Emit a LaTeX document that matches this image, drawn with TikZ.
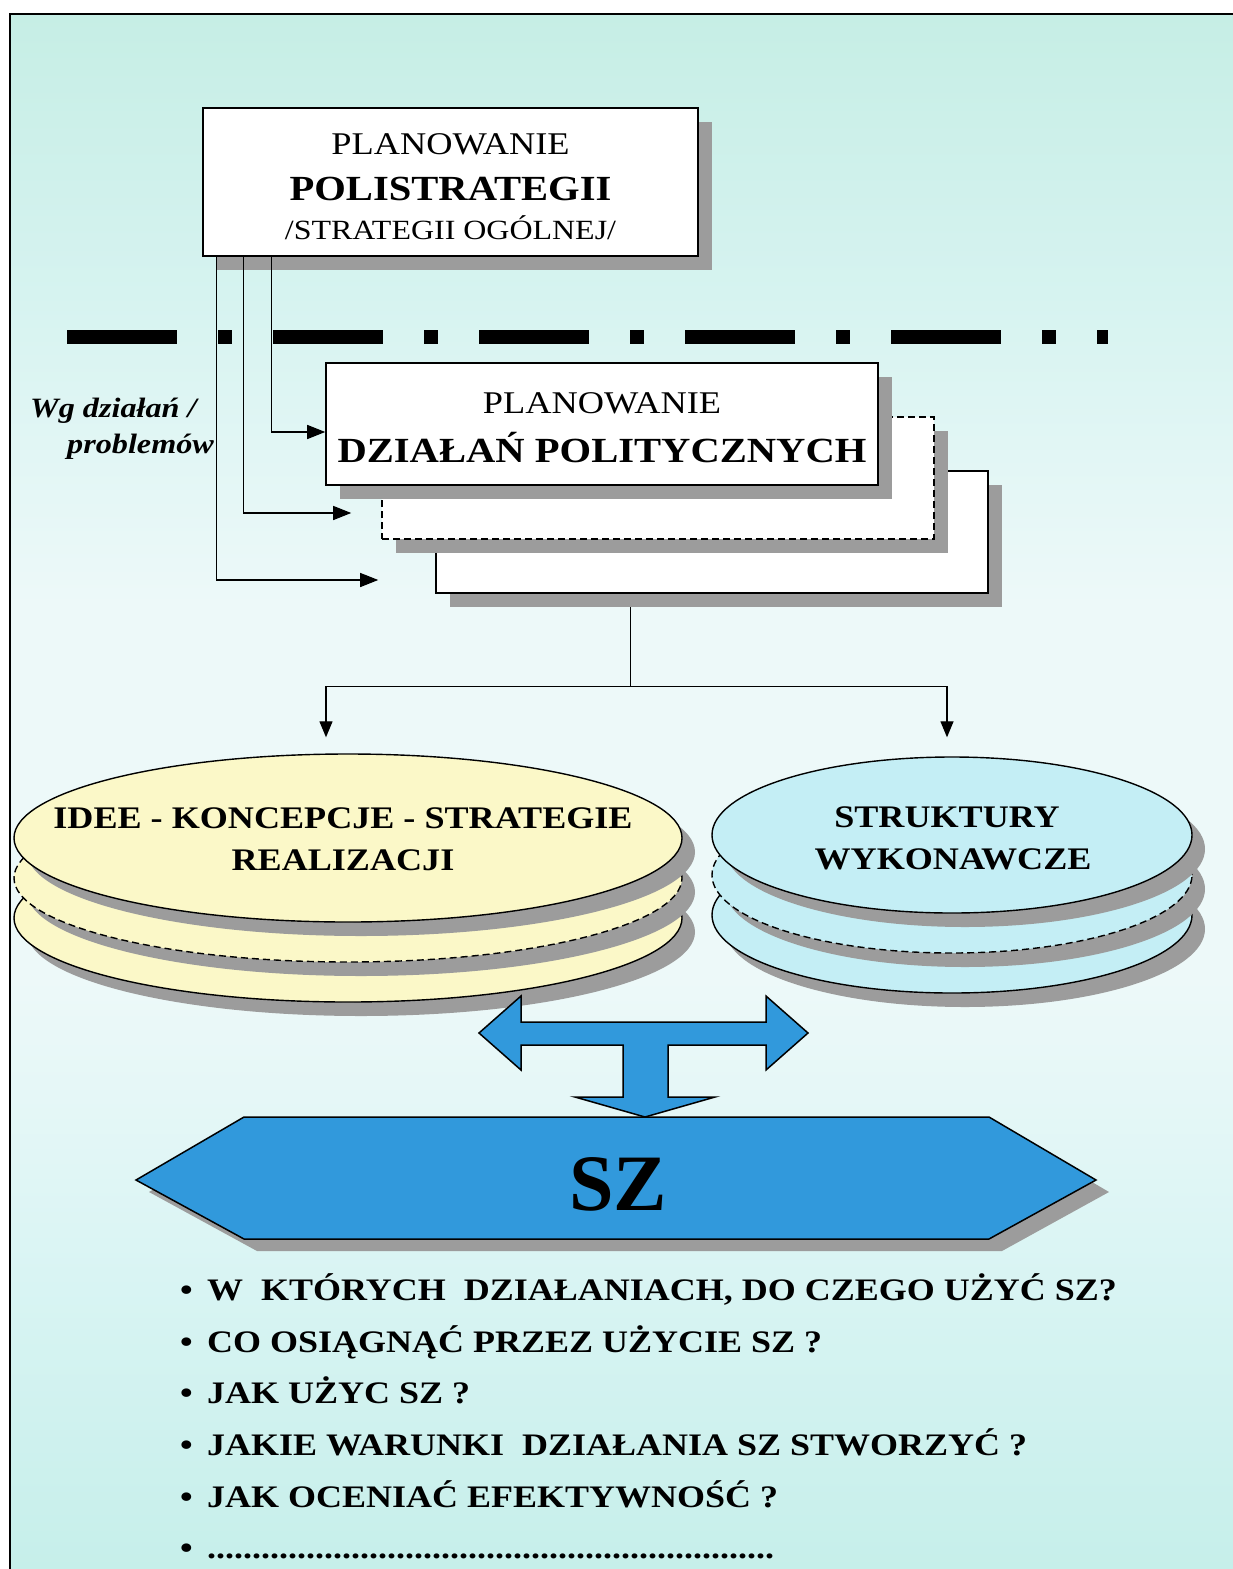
\documentclass[tikz,border=0pt]{standalone}
\usepackage{fontspec}
\setmainfont{Liberation Serif}[FakeStretch=1.15]
\newfontfamily\plainserif{Liberation Serif}
\usetikzlibrary{arrows.meta,shapes.geometric,shadows,calc}

\definecolor{bgT}{HTML}{C6EEE5}
\definecolor{bgT2}{HTML}{D6F3F0}
\definecolor{bgW}{HTML}{EDF9F9}
\definecolor{bgB2}{HTML}{D8F4F3}
\definecolor{bgB}{HTML}{C6EFEA}
\definecolor{shadowgray}{HTML}{9C9C9C}
\definecolor{ideayellow}{HTML}{FBF8C8}
\definecolor{structblue}{HTML}{C4EEF5}
\definecolor{szblue}{HTML}{3199DC}

\pgfdeclareverticalshading{paper}{100bp}{color(0bp)=(bgB); color(25bp)=(bgB); color(34bp)=(bgB2); color(44bp)=(bgW); color(56bp)=(bgW); color(66bp)=(bgT2); color(75bp)=(bgT); color(100bp)=(bgT)}

\pgfdeclarelayer{bg}
\pgfdeclarelayer{wires}
\pgfsetlayers{bg,wires,main}

\tikzset{
  boxshadow/.style={drop shadow={shadow xshift=14pt, shadow yshift=-14pt, fill=shadowgray, opacity=1}},
  planbox/.style={draw=black, line width=1.6pt, fill=white, minimum width=552pt, minimum height=122pt, inner sep=0pt, boxshadow},
  brokenline/.style={dash pattern=on 7pt off 4pt},
  disk/.style={ellipse, draw=black, line width=1.4pt, inner sep=0pt,
    drop shadow={shadow xshift=13pt, shadow yshift=-14pt, fill=shadowgray, opacity=1}},
  leftdisk/.style={disk, fill=ideayellow, minimum width=668pt, minimum height=168pt},
  rightdisk/.style={disk, fill=structblue, minimum width=480pt, minimum height=156pt},
  wire/.style={line width=1.3pt, draw=black},
  wirearrow/.style={-{Triangle[length=18pt,width=14pt]}},
  downarrow/.style={-{Triangle[length=16pt,width=13pt]}},
  txt/.style={inner sep=0pt, anchor=base},
  regtext/.style={txt, font=\fontsize{31.6}{36}\selectfont},
  boldtext/.style={txt, font=\fontsize{31.4}{36}\selectfont\bfseries},
  question/.style={inner sep=0pt, anchor=base west, font=\fontsize{31.3}{36}\selectfont\bfseries},
}

\begin{document}
\begin{tikzpicture}[x=1pt,y=-1pt]
\useasboundingbox (0,0) rectangle (1233,1569);

% paper and frame
\begin{pgfonlayer}{bg}
  \fill[white] (0,0) rectangle (1233,1569);
  \shade[shading=paper] (10,14) rectangle (1233,1569);
  \draw[line width=2pt] (10,1569) -- (10,14) -- (1233,14);
\end{pgfonlayer}

% general strategy box
\node[planbox, minimum width=495pt, minimum height=148pt] (topbox) at (450.5,182) {};
\node[regtext] (t1) at (450.5,154) {PLANOWANIE};
\node[txt, font=\fontsize{35.3}{40}\selectfont\bfseries] (t2) at (450.5,200) {POLISTRATEGII};
\node[txt, font=\fontsize{27.8}{32}\selectfont] (t3) at (450.5,239) {/STRATEGII OGÓLNEJ/};

% dash-dot separator
\draw[line width=14pt, dash pattern=on 110pt off 41pt on 14pt off 41pt] (67,337) -- (1108,337);

% stacked planning boxes
\node[planbox] (boxC) at (712,532) {};
\node[planbox, brokenline] (boxB) at (658,478) {};
\node[planbox] (boxA) at (602,424) {};
\node[regtext] (a1) at (602,413) {PLANOWANIE};
\node[txt, font=\fontsize{35.3}{40}\selectfont\bfseries] (a2) at (602,462) {DZIAŁAŃ POLITYCZNYCH};

% side caption
\node[txt, anchor=base west, font=\fontsize{28}{32}\selectfont\bfseries\itshape] (wg1) at (30,417) {Wg działań /};
\node[txt, anchor=base west, font=\fontsize{28}{32}\selectfont\bfseries\itshape] (wg2) at (67,453) {problemów};

% feeds from the general strategy
\coordinate (s1) at ($(topbox.south west)+(14,0)$);
\coordinate (s2) at ($(topbox.south west)+(41,0)$);
\coordinate (s3) at ($(topbox.south west)+(69,0)$);
\draw[wire, wirearrow] (s3) |- ($(boxA.west)+(0,8)$);
\draw[wire, wirearrow] (s2) |- ($(boxB.west)+(-30,35)$);
\draw[wire, wirearrow] (s1) |- ($(boxC.west)+(-57,48)$);

% disk stacks
\node[leftdisk] (ideas3) at (348,918) {};
\node[leftdisk, brokenline] (ideas2) at (348,878) {};
\node[leftdisk] (ideas) at (348,838) {};
\node[rightdisk] (struct3) at (952,915) {};
\node[rightdisk, brokenline] (struct2) at (952,875) {};
\node[rightdisk] (struct) at (952,835) {};
\node[boldtext] (i1) at (343,828) {IDEE - KONCEPCJE - STRATEGIE};
\node[boldtext] (i2) at (343,870) {REALIZACJI};
\node[boldtext] (w1) at (947,827) {STRUKTURY};
\node[boldtext] (w2) at (953,869) {WYKONAWCZE};

% split towards both stacks
\coordinate (boxCout) at ($(boxC.south west)+(195,0)$);
\coordinate (bend) at ($(boxC.south west)+(195,93)$);
\begin{pgfonlayer}{wires}
  \draw[wire] (boxCout) -- (bend);
\end{pgfonlayer}
\draw[wire, downarrow] (bend) -| ($(ideas.north)+(-22,-16)$);
\draw[wire, downarrow] (bend) -| ($(struct.north)+(-5,-19)$);

% T-shaped blue arrow
\draw[fill=szblue, line width=1.5pt, line join=miter]
  (479,1033) -- (521,996) -- (521,1022) -- (766,1022) -- (766,996) -- (808,1033)
  -- (766,1070) -- (766,1045) -- (668,1045) -- (668,1097) -- (715,1097) -- (645,1117)
  -- (575,1097) -- (623,1097) -- (623,1045) -- (521,1045) -- (521,1070) -- cycle;

% SZ hexagon
\fill[shadowgray] (149,1192) -- (257,1129) -- (1002,1129) -- (1109,1192) -- (1002,1251) -- (257,1251) -- cycle;
\draw[fill=szblue, line width=1.5pt]
  (136,1180) -- (244,1117) -- (989,1117) -- (1096,1180) -- (989,1239) -- (244,1239) -- cycle;
\node[txt, font=\plainserif\bfseries\fontsize{80}{90}\selectfont] (sz) at (618,1210) {SZ};

% questions
\node[question] (q1) at (180,1300) {\makebox[27pt][l]{•}W\ \ KTÓRYCH\ \ DZIAŁANIACH, DO CZEGO UŻYĆ SZ?};
\node[question] (q2) at (180,1352) {\makebox[27pt][l]{•}CO OSIĄGNĄĆ PRZEZ UŻYCIE SZ ?};
\node[question] (q3) at (180,1403) {\makebox[27pt][l]{•}JAK UŻYC SZ ?};
\node[question] (q4) at (180,1455) {\makebox[27pt][l]{•}JAKIE WARUNKI\ \ DZIAŁANIA SZ STWORZYĆ ?};
\node[question] (q5) at (180,1507) {\makebox[27pt][l]{•}JAK OCENIAĆ EFEKTYWNOŚĆ ?};
\node[question] (q6) at (180,1558) {\makebox[27pt][l]{•}\hbox to 572pt{\leaders\hbox{.}\hfill}};
\end{tikzpicture}
\end{document}
